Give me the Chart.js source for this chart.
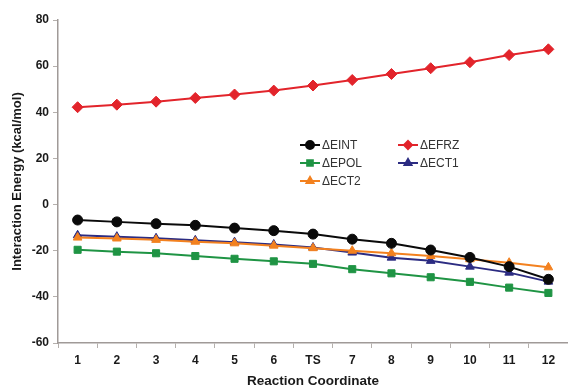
<!DOCTYPE html>
<html>
<head>
<meta charset="utf-8">
<script src="https://cdn.jsdelivr.net/npm/chart.js@4/dist/chart.umd.min.js"></script>
<style>
  html, body { margin: 0; padding: 0; background: #fff; }
  #wrap { width: 568px; height: 386px; position: relative; }
</style>
</head>
<body>
<div id="wrap"><canvas id="chart"></canvas></div>
<script>
// reaction coordinate labels
const labels = ["1", "2", "3", "4", "5", "6", "TS", "7", "8", "9", "10", "11", "12"];

// interaction energies (kcal/mol)
const eint = [-6.7, -7.5, -8.3, -9.0, -10.2, -11.3, -12.8, -15.0, -16.8, -19.7, -22.9, -26.9, -32.4];
const efrz = [42.2, 43.3, 44.6, 46.2, 47.7, 49.4, 51.6, 54.0, 56.6, 59.1, 61.7, 64.8, 67.3];
const epol = [-19.6, -20.4, -21.1, -22.3, -23.5, -24.6, -25.7, -28.0, -29.8, -31.5, -33.5, -36.0, -38.3];
const ect1 = [-13.3, -13.9, -14.6, -15.5, -16.3, -17.3, -18.6, -20.8, -23.0, -24.4, -26.9, -29.5, -33.4];
const ect2 = [-14.3, -14.7, -15.3, -16.1, -16.8, -17.8, -18.9, -20.0, -21.1, -22.3, -23.7, -25.2, -27.2];

const yTicks = [-60, -40, -20, 0, 20, 40, 60, 80];

function series(label, data, color, style, order) {
  return {
    label: label,
    data: data,
    borderColor: color,
    backgroundColor: color,
    borderWidth: 2,
    pointStyle: style,
    pointRadius: style === "rectRot" ? 5.5 : 5,
    pointBorderWidth: 1,
    tension: 0,
    order: order
  };
}

const datasets = [
  series("\u0394EINT", eint, "#0a0a0a", "circle", 0),
  series("\u0394EFRZ", efrz, "#e2242b", "rectRot", 1),
  series("\u0394EPOL", epol, "#1f9444", "rect", 4),
  series("\u0394ECT1", ect1, "#2c2c82", "triangle", 3),
  series("\u0394ECT2", ect2, "#f3811f", "triangle", 2)
];

// legend drawn inside the plot, two columns
const insideLegend = {
  id: "insideLegend",
  afterDatasetsDraw(chart) {
    const ctx = chart.ctx;
    const spots = [[300, 145], [398, 145], [300, 163], [398, 163], [300, 181]];
    ctx.save();
    chart.data.datasets.forEach((ds, i) => {
      const x = spots[i][0], y = spots[i][1];
      ctx.strokeStyle = ds.borderColor;
      ctx.lineWidth = 2;
      ctx.beginPath();
      ctx.moveTo(x, y);
      ctx.lineTo(x + 20, y);
      ctx.stroke();
      ctx.fillStyle = ds.backgroundColor;
      Chart.helpers.drawPoint(ctx, {
        pointStyle: ds.pointStyle,
        radius: 4,
        rotation: 0,
        borderWidth: 1
      }, x + 10, y);
      ctx.fillStyle = "#333";
      ctx.font = "12px 'Liberation Sans', Arial, sans-serif";
      ctx.textBaseline = "middle";
      ctx.textAlign = "left";
      ctx.fillText(ds.label, x + 22, y + 1);
    });
    ctx.restore();
  }
};

new Chart(document.getElementById("chart"), {
  type: "line",
  data: { labels: labels, datasets: datasets },
  plugins: [insideLegend],
  options: {
    responsive: true,
    maintainAspectRatio: false,
    animation: false,
    layout: { autoPadding: false, padding: { top: 20, right: 0, left: 0, bottom: 0 } },
    plugins: {
      legend: { display: false },
      tooltip: { enabled: false }
    },
    scales: {
      x: {
        offset: true,
        grid: {
          offset: true,
          drawOnChartArea: false,
          drawTicks: true,
          tickLength: 5,
          color: "#b5b0ad"
        },
        border: { color: "#a09a98", width: 1.5 },
        ticks: {
          color: "#1a1a1a",
          padding: 5,
          maxRotation: 0,
          font: { family: "'Liberation Sans', Arial, sans-serif", size: 12, weight: "bold" }
        },
        title: {
          display: true,
          text: "Reaction Coordinate",
          color: "#1a1a1a",
          padding: { top: 6, bottom: -3 },
          font: { family: "'Liberation Sans', Arial, sans-serif", size: 13.5, weight: "bold" }
        },
        afterFit(scale) { scale.height = 43; }
      },
      y: {
        min: -60,
        max: 80,
        afterBuildTicks(scale) { scale.ticks = yTicks.map(v => ({ value: v })); },
        grid: {
          drawOnChartArea: false,
          drawTicks: true,
          tickLength: 5,
          color: "#b5b0ad"
        },
        border: { color: "#a09a98", width: 1.5 },
        ticks: {
          color: "#1a1a1a",
          padding: 4,
          font: { family: "'Liberation Sans', Arial, sans-serif", size: 12, weight: "bold" }
        },
        title: {
          display: true,
          text: "Interaction Energy (kcal/mol)",
          color: "#1a1a1a",
          padding: { top: 10, bottom: 0 },
          font: { family: "'Liberation Sans', Arial, sans-serif", size: 13, weight: "bold" }
        },
        afterFit(scale) { scale.width = 58; }
      }
    }
  }
});
</script>
</body>
</html>
